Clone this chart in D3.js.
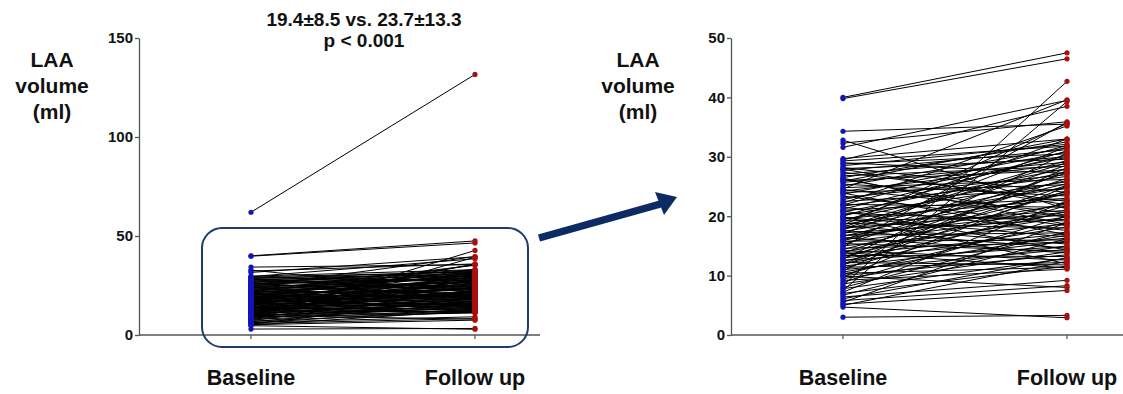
<!DOCTYPE html>
<html><head><meta charset="utf-8">
<script src="https://cdn.jsdelivr.net/npm/d3@7"></script>
<style>
html,body{margin:0;padding:0;background:#fff;}
svg{display:block;font-family:"Liberation Sans",Arial,sans-serif;}
</style></head>
<body>
<svg id="c" width="1123" height="394"></svg>
<script>
const categories = ["Baseline", "Follow up"];
const baseline = [62.0,40.0,39.8,34.3,32.8,32.3,31.6,29.7,29.5,29.3,29.0,28.8,28.5,28.2,28.0,27.7,27.4,27.1,26.8,26.5,26.2,26.0,25.7,25.4,25.1,24.8,24.5,24.2,24.0,23.7,23.4,23.1,22.8,22.5,22.2,22.0,21.7,21.5,21.2,21.0,20.7,20.5,20.2,20.0,19.8,19.6,19.4,19.2,19.0,18.8,18.6,18.4,18.2,18.0,17.8,17.6,17.4,17.2,17.0,16.8,16.6,16.4,16.2,16.0,15.8,15.6,15.4,15.2,15.0,14.8,14.6,14.4,14.2,14.0,13.8,13.6,13.4,13.2,13.0,12.8,12.6,12.4,12.2,12.0,11.8,11.6,11.4,11.2,11.0,10.8,10.6,10.4,10.2,10.0,9.8,9.5,9.2,8.9,8.6,8.3,8.0,7.8,7.5,7.2,7.0,6.7,6.4,6.1,5.8,5.5,5.2,5.0,4.7,3.0,27.9,25.9,23.9,21.9,19.9,17.9,15.9,13.9,11.9,9.9,18.5,24.6,20.9,16.7,26.4,12.9];
const followUp = [131.6,47.5,46.5,35.5,21.2,35.9,39.5,33.0,38.5,31.8,27.2,30.5,32.1,24.0,29.6,31.2,22.5,30.0,28.4,32.5,19.8,27.8,29.1,23.4,31.5,26.2,20.6,28.8,25.3,30.8,18.4,27.0,29.9,24.6,35.2,21.5,26.7,17.6,30.3,23.0,28.0,19.2,25.8,31.0,16.5,22.8,27.5,20.1,33.0,18.0,24.9,15.3,29.4,21.0,26.0,14.6,23.7,19.5,31.7,17.2,25.5,13.8,22.0,28.6,16.0,20.4,14.1,27.3,18.7,35.8,15.6,23.9,12.6,19.9,26.4,17.0,13.2,22.3,16.3,30.6,14.9,20.8,11.8,18.2,24.3,15.8,12.2,21.8,14.4,28.2,16.8,11.4,19.0,13.5,25.0,15.0,11.1,20.0,14.0,42.7,17.4,12.9,39.3,22.6,11.6,16.2,9.2,13.0,8.3,18.9,7.5,12.4,2.9,3.3,21.9,33.0,16.9,31.9,12.0,29.0,24.1,11.3,27.7,8.0,35.6,39.6,14.3,20.7,18.6,25.2];
const leftTicks = [0, 50, 100, 150];
const rightTicks = [0, 10, 20, 30, 40, 50];
const titleLines = ["19.4\u00b18.5 vs. 23.7\u00b113.3", "p < 0.001"];
const yTitle = ["LAA", "volume", "(ml)"];

const pairs = baseline.map((b, i) => ({b: b, f: followUp[i]}));
const svg = d3.select("#c");
const axisColor = "#555";

function panel(opts) {
  const g = svg.append("g");
  const y = d3.scaleLinear().domain(opts.domain).range([335, 38]);
  const x = d3.scalePoint().domain(categories).range(opts.xr);
  const data = pairs.filter(p => p.b <= opts.domain[1] && p.f <= opts.domain[1]);

  const ya = g.append("g").attr("transform", `translate(${opts.ax},0)`)
    .call(d3.axisLeft(y).tickValues(opts.ticks).tickSize(4).tickSizeOuter(0).tickPadding(2));
  ya.select(".domain").attr("stroke", axisColor).attr("stroke-width", 1.3);
  ya.selectAll(".tick line").attr("stroke", axisColor).attr("stroke-width", 1.3);
  ya.selectAll(".tick text").attr("font-size", 15).attr("font-weight", "bold")
    .attr("fill", "#111").attr("font-family", "Liberation Sans, Arial, sans-serif");

  g.append("line").attr("x1", opts.ax).attr("x2", opts.xend).attr("y1", y(0)).attr("y2", y(0))
    .attr("stroke", axisColor).attr("stroke-width", 1.3);
  g.selectAll(".xt").data(categories).enter().append("line")
    .attr("x1", d => x(d)).attr("x2", d => x(d)).attr("y1", y(0)).attr("y2", y(0) + 4)
    .attr("stroke", axisColor).attr("stroke-width", 1.2);
  g.selectAll(".xl").data(categories).enter().append("text")
    .attr("x", d => x(d)).attr("y", 385).attr("text-anchor", "middle")
    .attr("font-size", 21.5).attr("font-weight", "bold").attr("fill", "#111").text(d => d);

  g.selectAll(".yt").data(yTitle).enter().append("text")
    .attr("x", opts.ytx).attr("y", (d, i) => 67 + i * 26).attr("text-anchor", "middle")
    .attr("font-size", 21).attr("font-weight", "bold").attr("fill", "#111").text(d => d);

  g.append("g").selectAll("line").data(data).enter().append("line")
    .attr("x1", x(categories[0])).attr("x2", x(categories[1]))
    .attr("y1", d => y(d.b)).attr("y2", d => y(d.f))
    .attr("stroke", "#000").attr("stroke-width", 1);
  g.append("g").selectAll("circle").data(data).enter().append("circle")
    .attr("cx", x(categories[0])).attr("cy", d => y(d.b)).attr("r", 2.6).attr("fill", "#1414b8");
  g.append("g").selectAll("circle").data(data).enter().append("circle")
    .attr("cx", x(categories[1])).attr("cy", d => y(d.f)).attr("r", 2.6).attr("fill", "#a80f0f");
  return {x, y};
}

const L = panel({domain: [0, 150], ticks: leftTicks, xr: [251, 475], ax: 139, xend: 540, ytx: 52});
const R = panel({domain: [0, 50], ticks: rightTicks, xr: [843, 1067], ax: 731, xend: 1123, ytx: 638});

svg.selectAll(".tt").data(titleLines).enter().append("text")
  .attr("x", 364).attr("y", (d, i) => 26 + i * 21).attr("text-anchor", "middle")
  .attr("font-size", 19).attr("font-weight", "bold").attr("fill", "#111").text(d => d);

svg.append("rect").attr("x", 202).attr("y", 228).attr("width", 326).attr("height", 119)
  .attr("rx", 20).attr("ry", 20).attr("fill", "none").attr("stroke", "#1f3a6e").attr("stroke-width", 2);

const ac = "#0d2a63";
svg.append("line").attr("x1", 539).attr("y1", 238).attr("x2", 664).attr("y2", 203)
  .attr("stroke", ac).attr("stroke-width", 7.5);
svg.append("path").attr("d", "M677,197 L655,192 L664,215 Z").attr("fill", ac);
</script>
</body></html>
